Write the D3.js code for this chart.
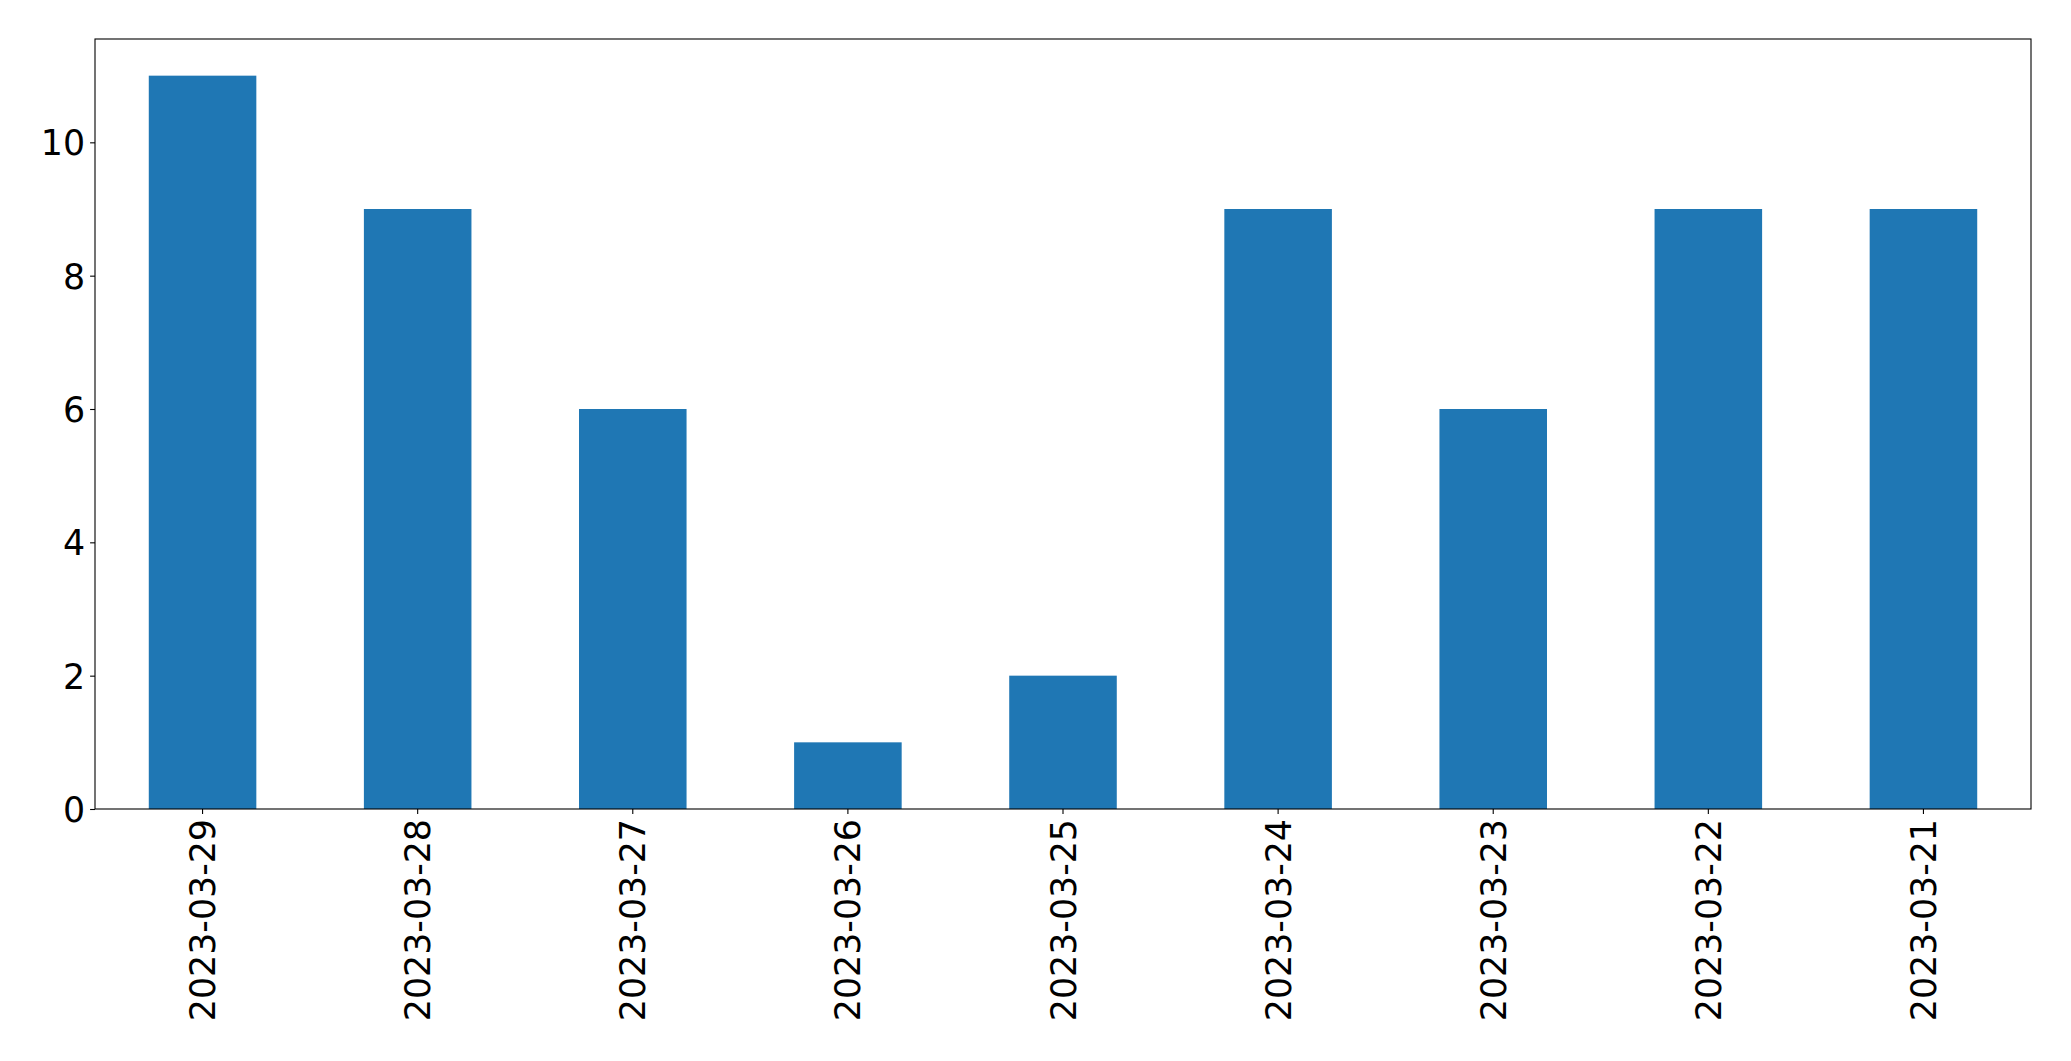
<!DOCTYPE html>
<html>
<head>
<meta charset="utf-8">
<script src="https://cdn.jsdelivr.net/npm/d3@7"></script>
<style>
  html, body { margin: 0; padding: 0; background: #fff; }
  svg { display: block; }
  .axis text { font-family: "DejaVu Sans", sans-serif; font-size: 34.8px; fill: #000; }
  .axis line { stroke: #000; stroke-width: 1.1; }
</style>
</head>
<body>
<div id="chart"></div>
<script>
'use strict';

// ── Data ───────────────────────────────────────────────────────────────────
const dates  = ['2023-03-29', '2023-03-28', '2023-03-27', '2023-03-26', '2023-03-25',
                '2023-03-24', '2023-03-23', '2023-03-22', '2023-03-21'];
const counts = [11, 9, 6, 1, 2, 9, 6, 9, 9];
const yTicks = [0, 2, 4, 6, 8, 10];

// ── Layout ─────────────────────────────────────────────────────────────────
const fullW = 2071, fullH = 1061;
const margin = { top: 39, right: 40, bottom: 252, left: 95 };
const W = fullW - margin.left - margin.right;
const H = fullH - margin.top - margin.bottom;

const x = d3.scaleBand()
  .domain(dates)
  .range([0, W])
  .paddingInner(0.5)
  .paddingOuter(0.25);

const y = d3.scaleLinear()
  .domain([0, d3.max(counts) * 1.05])
  .range([H, 0]);

const svg = d3.select('#chart')
  .append('svg')
  .attr('width', fullW)
  .attr('height', fullH);

const g = svg.append('g').attr('transform', `translate(${margin.left},${margin.top})`);

// Bars
g.selectAll('rect.bar')
  .data(dates.map((d, i) => ({ date: d, value: counts[i] })))
  .join('rect')
  .attr('class', 'bar')
  .attr('x', d => x(d.date))
  .attr('y', d => y(d.value))
  .attr('width', x.bandwidth())
  .attr('height', d => H - y(d.value))
  .attr('fill', '#1f77b4');

// Y axis
g.append('g')
  .attr('class', 'axis')
  .call(d3.axisLeft(y).tickValues(yTicks).tickSize(4.9).tickPadding(5).tickFormat(d3.format('d')))
  .call(ax => ax.select('.domain').remove())
  .selectAll('text')
  .attr('dy', '0.36em');

// X axis
g.append('g')
  .attr('class', 'axis')
  .attr('transform', `translate(0,${H})`)
  .call(d3.axisBottom(x).tickSize(4.9).tickPadding(0))
  .call(ax => ax.select('.domain').remove())
  .selectAll('text')
  .attr('transform', 'rotate(-90)')
  .attr('text-anchor', 'end')
  .attr('x', -10)
  .attr('y', 0)
  .attr('dy', '0.36em');

// Frame
g.append('rect')
  .attr('x', 0).attr('y', 0)
  .attr('width', W).attr('height', H)
  .attr('fill', 'none')
  .attr('stroke', '#000')
  .attr('stroke-width', 1.1);
</script>
</body>
</html>
